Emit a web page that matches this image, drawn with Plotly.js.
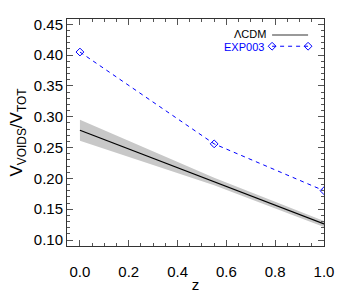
<!DOCTYPE html>
<html>
<head>
<meta charset="utf-8">
<script src="https://cdn.plot.ly/plotly-3.0.1.min.js"></script>
<style>html,body{margin:0;padding:0;background:#fff;}#plot{width:354px;height:295px;}</style>
</head>
<body>
<div id="plot"></div>
<script>
// Data
var zLcdm = [0.0, 0.55, 1.0];
var vLcdm = [0.278, 0.195, 0.126];
var vLcdmUpper = [0.295, 0.201, 0.131];
var vLcdmLower = [0.261, 0.189, 0.121];
var zExp = [0.0, 0.55, 1.0];
var vExp = [0.405, 0.256, 0.180];
var legendNames = ['\u039bCDM', 'EXP003'];

var font = 'Liberation Sans, Arial, Helvetica, sans-serif';

var traces = [
  {x: zLcdm, y: vLcdmLower, mode: 'lines', line: {width: 0, color: '#c8c8c8'}, hoverinfo: 'skip', showlegend: false},
  {x: zLcdm, y: vLcdmUpper, mode: 'lines', line: {width: 0, color: '#c8c8c8'}, fill: 'tonexty', fillcolor: '#c8c8c8', hoverinfo: 'skip', showlegend: false},
  {x: zLcdm, y: vLcdm, mode: 'lines', line: {width: 1.2, color: '#000000'}, name: legendNames[0], showlegend: false},
  {x: zExp, y: vExp, mode: 'lines+markers', line: {width: 1, color: '#0000ff', dash: '4px,4px'},
   marker: {symbol: 'diamond-open', size: 6, color: '#0000ff', line: {width: 1, color: '#0000ff'}},
   name: legendNames[1], showlegend: false},
  // legend samples (drawn on hidden overlay axes spanning the plot area)
  {x: [0.798, 0.938], y: [0.930, 0.930], xaxis: 'x2', yaxis: 'y2', mode: 'lines', line: {width: 2, color: '#999999'}, showlegend: false, hoverinfo: 'skip', cliponaxis: false},
  {x: [0.798, 0.938], y: [0.880, 0.880], xaxis: 'x2', yaxis: 'y2', mode: 'lines+markers', line: {width: 1, color: '#0000ff', dash: '4px,4px'},
   marker: {symbol: 'diamond-open', size: 6, color: '#0000ff', line: {width: 1, color: '#0000ff'}}, showlegend: false, hoverinfo: 'skip', cliponaxis: false}
];

var axisCommon = {
  showgrid: false, zeroline: false, showline: true, mirror: 'ticks', linecolor: '#333', linewidth: 1,
  ticks: 'inside', ticklen: 6, tickcolor: '#555', tickwidth: 1,
  tickfont: {family: font, size: 15, color: '#000'},
  automargin: false
};

var layout = {
  width: 354, height: 295,
  margin: {l: 67, r: 30, t: 19, b: 49},
  paper_bgcolor: '#fff', plot_bgcolor: '#fff',
  showlegend: false,
  font: {family: font, color: '#000'},
  xaxis: Object.assign({}, axisCommon, {
    range: [-0.053, 1.0], dtick: 0.2, tick0: 0, tickformat: '.1f',
    ticklabelstandoff: 12,
    minor: {dtick: 0.05, ticks: 'inside', ticklen: 3, tickcolor: '#555', showgrid: false},
    title: {text: 'z', font: {family: font, size: 15, color: '#000'}, standoff: 0}
  }),
  yaxis: Object.assign({}, axisCommon, {
    range: [0.0903, 0.4586], dtick: 0.05, tick0: 0.1, tickformat: '.2f',
    minor: {dtick: 0.01, ticks: 'inside', ticklen: 3, tickcolor: '#555', showgrid: false},
    title: {text: 'V<sub>VOIDS</sub>/V<sub>TOT</sub>', font: {family: font, size: 17, color: '#000'}, standoff: 6}
  }),
  xaxis2: {overlaying: 'x', range: [0, 1], visible: false, fixedrange: true},
  yaxis2: {overlaying: 'y', range: [0, 1], visible: false, fixedrange: true},
  annotations: [
    {xref: 'paper', yref: 'paper', x: 0.782, y: 0.936, xanchor: 'right', yanchor: 'middle', showarrow: false,
     text: legendNames[0], font: {family: font, size: 11, color: '#000'}},
    {xref: 'paper', yref: 'paper', x: 0.776, y: 0.876, xanchor: 'right', yanchor: 'middle', showarrow: false,
     text: legendNames[1], font: {family: font, size: 11, color: '#0000ff'}}
  ]
};

Plotly.newPlot('plot', traces, layout, {staticPlot: true, displayModeBar: false});
</script>
</body>
</html>
